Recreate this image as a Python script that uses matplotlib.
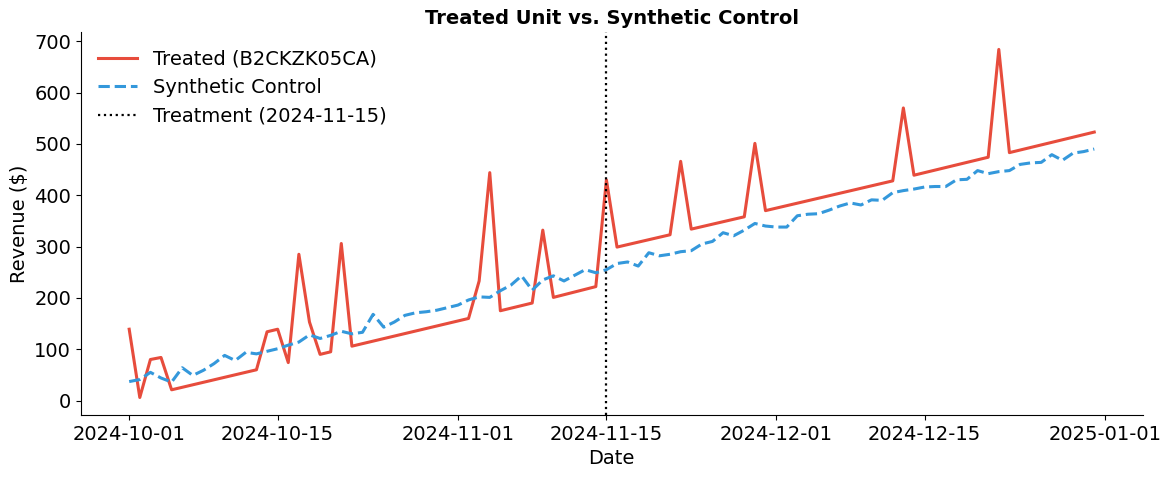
import numpy as np
import pandas as pd
import matplotlib
matplotlib.use("Agg")
import matplotlib.pyplot as plt
import matplotlib.dates as mdates

# Treated unit (days offset from 2024-10-01 where the line has a vertex)
treated_days = [0, 1, 2, 3, 4, 12, 13, 14, 15, 16, 17, 18, 19, 20, 21,
                32, 33, 34, 35, 38, 39, 40, 44, 45, 46, 51, 52, 53,
                58, 59, 60, 72, 73, 74, 81, 82, 83, 91]
treated_vals = [139, 6, 80, 84, 21, 60, 134, 139, 74, 285, 153, 90, 95, 306, 106,
                160, 233, 444, 175, 190, 332, 201, 222, 430, 299, 323, 466, 334,
                358, 501, 370, 428, 570, 439, 474, 684, 483, 523]

# Synthetic control, daily from 2024-10-01
synth_vals = [37, 41, 55, 44, 36, 64, 49, 59, 72, 88, 78, 94, 91, 96, 101,
              108, 114, 128, 121, 127, 135, 130, 133, 168, 143, 153, 166, 171,
              173, 176, 181, 186, 196, 202, 201, 214, 225, 243, 215, 235, 243,
              233, 244, 255, 249, 255, 267, 270, 262, 288, 282, 285, 290, 292,
              305, 310, 327, 321, 332, 345, 340, 338, 338, 360, 363, 364, 371,
              379, 385, 381, 391, 390, 405, 409, 412, 416, 417, 417, 430, 431,
              448, 442, 446, 448, 460, 463, 464, 479, 468, 482, 485, 490]

start = pd.Timestamp("2024-10-01")
treatment_date = pd.Timestamp("2024-11-15")
treated_dates = start + pd.to_timedelta(treated_days, unit="D")
synth_dates = pd.date_range(start, periods=len(synth_vals), freq="D")

fig, ax = plt.subplots(figsize=(11.73, 4.78), dpi=100)
fig.subplots_adjust(left=0.069, right=0.974, top=0.933, bottom=0.132)

ax.plot(treated_dates, treated_vals, color="#e74c3c", lw=2.2, label="Treated (B2CKZK05CA)")
ax.plot(synth_dates, synth_vals, color="#3498db", lw=2.2, ls="--", label="Synthetic Control")
ax.axvline(treatment_date, color="black", ls=":", lw=1.6, label="Treatment (2024-11-15)")

ax.set_title("Treated Unit vs. Synthetic Control", fontsize=14, fontweight="bold")
ax.set_xlabel("Date", fontsize=14)
ax.set_ylabel("Revenue ($)", fontsize=14)
ax.tick_params(labelsize=14)

ticks = pd.to_datetime(["2024-10-01", "2024-10-15", "2024-11-01", "2024-11-15",
                        "2024-12-01", "2024-12-15", "2025-01-01"])
ax.set_xticks(ticks)
ax.xaxis.set_major_formatter(mdates.DateFormatter("%Y-%m-%d"))

ax.spines["top"].set_visible(False)
ax.spines["right"].set_visible(False)
ax.legend(loc="upper left", frameon=False, fontsize=14)

fig.savefig("out.png", dpi=100)
